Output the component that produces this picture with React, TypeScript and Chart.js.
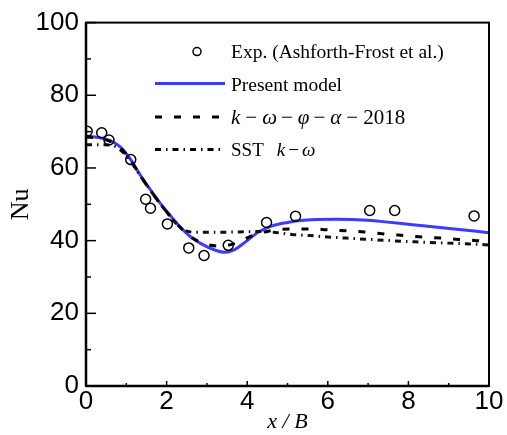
import React, { useEffect, useRef } from 'react';
import { Chart, registerables } from 'chart.js';

Chart.register(...registerables);

// Experimental data (Ashforth-Frost et al.)
const expX = [0.03, 0.39, 0.57, 1.11, 1.48, 1.6, 2.02, 2.55, 2.93, 3.53, 4.48, 5.2, 7.04, 7.66, 9.63];
const expNu = [70.1, 69.7, 67.7, 62.3, 51.4, 48.9, 44.6, 38.0, 35.9, 38.7, 45.0, 46.7, 48.3, 48.3, 46.8];

// Present model
const presentX = [0, 0.3, 0.6, 0.85, 1.1, 1.35, 1.6, 1.85, 2.1, 2.35, 2.6, 2.9, 3.15, 3.45, 3.7, 3.95, 4.3, 4.6, 5.0, 5.4, 6.2, 7.0, 7.3, 8.1, 8.9, 10];
const presentNu = [68.8, 68.4, 67.5, 65.8, 62.4, 58.0, 54.0, 50.2, 46.8, 43.6, 41.0, 38.9, 37.6, 36.8, 37.6, 39.6, 42.5, 44.0, 45.0, 45.6, 45.9, 45.6, 45.3, 44.4, 43.5, 42.2];

// k-omega-phi-alpha-2018
const kwX = [0, 0.3, 0.6, 0.85, 1.1, 1.35, 1.6, 1.85, 2.1, 2.35, 2.6, 2.9, 3.3, 3.6, 3.85, 4.2, 4.7, 5.1, 5.6, 6.1, 6.5, 7.0, 7.45, 7.9, 8.35, 8.8, 9.25, 9.7, 10];
const kwNu = [68.5, 68.2, 67.3, 65.6, 62.2, 57.8, 53.8, 50.0, 46.6, 43.5, 41.1, 39.3, 38.5, 38.9, 40.0, 41.7, 42.9, 43.2, 43.2, 42.9, 42.7, 42.3, 41.8, 41.4, 41.0, 40.7, 40.3, 40.0, 39.8];

// SST k-omega
const sstX = [0, 0.35, 0.65, 0.85, 1.1, 1.35, 1.6, 1.85, 2.1, 2.3, 2.5, 2.75, 3.2, 3.8, 4.3, 4.65, 5.1, 5.55, 6.0, 6.46, 6.92, 7.41, 7.87, 8.33, 8.78, 9.23, 9.69, 10];
const sstNu = [66.4, 66.4, 66.2, 65.0, 62.0, 57.8, 53.8, 50.0, 46.5, 44.0, 42.6, 42.3, 42.3, 42.4, 42.5, 42.3, 41.7, 41.4, 41.0, 40.7, 40.4, 40.1, 39.8, 39.6, 39.4, 39.2, 39.0, 38.8];

// Axis ticks
const xMajorTicks = [0, 2, 4, 6, 8, 10];
const xMinorTicks = [1, 3, 5, 7, 9];
const yMajorTicks = [0, 20, 40, 60, 80, 100];
const yMinorTicks = [10, 30, 50, 70, 90];

const legendLabels = ['Exp. (Ashforth-Frost et al.)', 'Present model'];

const BLUE = '#3c3cff';
const SERIF = '"Liberation Serif", "Times New Roman", serif';
const SANS = '"Liberation Sans", Arial, sans-serif';

const pts = (xs: number[], ys: number[]) => xs.map((x, i) => ({ x, y: ys[i] }));

type Part = { t: string; italic?: boolean; pad?: number };

function drawRich(ctx: CanvasRenderingContext2D, parts: Part[], x: number, y: number, size: number) {
  let cx = x;
  for (const p of parts) {
    ctx.font = `${p.italic ? 'italic ' : ''}${size}px ${SERIF}`;
    ctx.fillText(p.t, cx, y);
    cx += ctx.measureText(p.t).width + (p.pad ?? 0);
  }
}

const framePlugin = {
  id: 'frameAndLegend',
  afterDraw(chart: any) {
    const { ctx, chartArea: a, scales } = chart;
    const xs = scales.x;
    const ys = scales.y;
    ctx.save();
    ctx.strokeStyle = '#000';
    ctx.fillStyle = '#000';
    const seg = (x1: number, y1: number, x2: number, y2: number) => {
      ctx.beginPath();
      ctx.moveTo(x1, y1);
      ctx.lineTo(x2, y2);
      ctx.stroke();
    };
    // inward ticks
    ctx.lineWidth = 1.5;
    yMajorTicks.forEach((v) => { const p = ys.getPixelForValue(v); seg(a.left, p, a.left + 10, p); });
    yMinorTicks.forEach((v) => { const p = ys.getPixelForValue(v); seg(a.left, p, a.left + 5, p); });
    xMajorTicks.forEach((v) => { const p = xs.getPixelForValue(v); seg(p, a.bottom, p, a.bottom - 5); });
    xMinorTicks.forEach((v) => { const p = xs.getPixelForValue(v); seg(p, a.bottom, p, a.bottom - 3); });
    // frame
    ctx.lineWidth = 2;
    ctx.strokeRect(a.left, a.top, a.right - a.left, a.bottom - a.top);
    ctx.lineWidth = 2.5;
    seg(a.left, a.top, a.left, a.bottom);
    seg(a.left, a.bottom, a.right, a.bottom);

    // legend
    const sx1 = a.left + 69;
    const sx2 = a.left + 139;
    const tx = a.left + 145;
    const rows = [a.top + 29, a.top + 61, a.top + 94.5, a.top + 127];
    ctx.textBaseline = 'middle';
    ctx.textAlign = 'left';
    // row 1: marker
    ctx.lineWidth = 1.5;
    ctx.beginPath();
    ctx.arc(a.left + 111, rows[0], 4, 0, Math.PI * 2);
    ctx.stroke();
    drawRich(ctx, [{ t: legendLabels[0] }], tx, rows[0] + 1, 19.5);
    // row 2: blue line
    ctx.strokeStyle = BLUE;
    ctx.lineWidth = 3;
    seg(sx1, rows[1], sx2, rows[1]);
    drawRich(ctx, [{ t: legendLabels[1] }], tx, rows[1] + 2, 19.5);
    // row 3: dashed
    ctx.strokeStyle = '#000';
    ctx.setLineDash([7, 12]);
    seg(sx1, rows[2], sx2, rows[2]);
    ctx.setLineDash([]);
    drawRich(ctx, [
      { t: 'k', italic: true, pad: 5 }, { t: '\u2212', pad: 5 },
      { t: '\u03c9', italic: true, pad: 4 }, { t: '\u2212', pad: 5 },
      { t: '\u03c6', italic: true, pad: 4 }, { t: '\u2212', pad: 5 },
      { t: '\u03b1', italic: true, pad: 5 }, { t: '\u2212', pad: 5 },
      { t: '2018' },
    ], tx, rows[2] + 1, 21);
    // row 4: dash-dot
    ctx.setLineDash([6, 5, 1.5, 5]);
    seg(sx1, rows[3], sx2, rows[3]);
    ctx.setLineDash([]);
    drawRich(ctx, [
      { t: 'SST', pad: 13 }, { t: 'k', italic: true, pad: 3 }, { t: '\u2212', pad: 3 }, { t: '\u03c9', italic: true },
    ], tx, rows[3] + 1, 19);
    ctx.restore();
  },
};

export default function App() {
  const ref = useRef<HTMLCanvasElement>(null);
  useEffect(() => {
    const canvas = ref.current;
    if (!canvas) return;
    const chart = new Chart(canvas, {
      type: 'scatter',
      data: {
        datasets: [
          {
            label: legendLabels[0],
            data: pts(expX, expNu),
            showLine: false,
            pointStyle: 'circle',
            pointRadius: 5,
            pointBorderWidth: 1.5,
            pointBorderColor: '#000',
            pointBackgroundColor: 'rgba(0,0,0,0)',
            order: 0,
          },
          {
            label: 'k-w-phi-alpha-2018',
            data: pts(kwX, kwNu),
            showLine: true,
            pointRadius: 0,
            borderColor: '#000',
            borderWidth: 3,
            borderDash: [7, 12],
            tension: 0.4,
            cubicInterpolationMode: 'monotone',
            order: 1,
          },
          {
            label: 'SST k-w',
            data: pts(sstX, sstNu),
            showLine: true,
            pointRadius: 0,
            borderColor: '#111',
            borderWidth: 3,
            borderDash: [6, 5, 1.5, 5],
            tension: 0.4,
            cubicInterpolationMode: 'monotone',
            order: 2,
          },
          {
            label: legendLabels[1],
            data: pts(presentX, presentNu),
            showLine: true,
            pointRadius: 0,
            borderColor: BLUE,
            borderWidth: 3,
            tension: 0.4,
            cubicInterpolationMode: 'monotone',
            order: 3,
          },
        ],
      },
      options: {
        responsive: false,
        animation: false,
        layout: { padding: { top: 19, right: 18, left: 0, bottom: 0 } },
        plugins: { legend: { display: false }, tooltip: { enabled: false } },
        scales: {
          x: {
            type: 'linear',
            min: 0,
            max: 10,
            ticks: { stepSize: 2, padding: 0, color: '#000', font: { family: SANS, size: 26 } },
            grid: { display: false, drawTicks: false },
            border: { display: false },
            title: {
              display: true,
              text: 'x / B',
              color: '#000',
              font: { family: SERIF, size: 22, style: 'italic' },
              padding: { top: 0, bottom: 0 },
            },
            afterFit: (s: any) => { s.height = 49; },
          },
          y: {
            type: 'linear',
            min: 0,
            max: 100,
            ticks: { stepSize: 20, padding: 7, color: '#000', font: { family: SANS, size: 26 } },
            grid: { display: false, drawTicks: false },
            border: { display: false },
            title: {
              display: true,
              text: 'Nu',
              color: '#000',
              font: { family: SERIF, size: 26 },
              padding: { top: 6, bottom: 0 },
            },
            afterFit: (s: any) => { s.width = 86; },
          },
        },
      } as any,
      plugins: [framePlugin],
    });
    return () => chart.destroy();
  }, []);
  return (
    <div style={{ position: 'absolute', left: 0, top: 0, width: 507, height: 435, background: '#fff' }}>
      <canvas ref={ref} width={507} height={435} style={{ display: 'block' }} />
    </div>
  );
}
